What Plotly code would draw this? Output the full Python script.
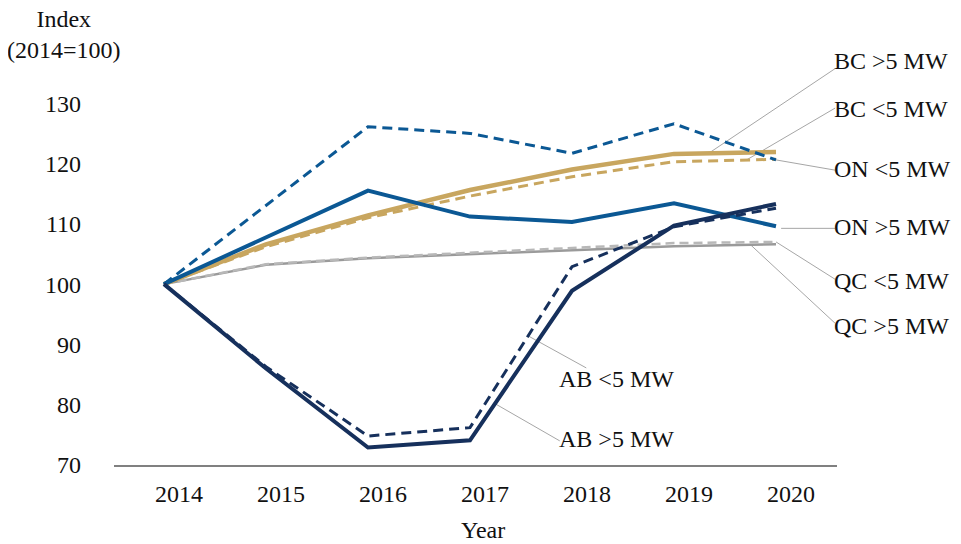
import numpy as np
import plotly.graph_objects as go

years = [2014, 2015, 2016, 2017, 2018, 2019, 2020]

on_lt5 = [100, 113.0, 126.1, 125.0, 121.7, 126.6, 120.6]
on_gt5 = [100, 107.8, 115.5, 111.2, 110.3, 113.4, 109.6]
bc_gt5 = [100, 106.6, 111.4, 115.6, 119.0, 121.6, 121.9]
bc_lt5 = [100, 106.2, 111.0, 114.6, 117.8, 120.3, 120.7]
qc_lt5 = [100, 103.3, 104.4, 105.2, 106.1, 106.8, 107.0]
qc_gt5 = [100, 103.2, 104.3, 105.0, 105.6, 106.3, 106.6]
ab_lt5 = [100, 86.3, 74.8, 76.2, 102.9, 109.5, 112.6]
ab_gt5 = [100, 86.0, 72.9, 74.1, 98.9, 109.7, 113.3]

y_ticks = [70, 80, 90, 100, 110, 120, 130]

BLUE = "#0b5894"
NAVY = "#16305c"
GOLD = "#c8a65f"
GRAY = "#9a9a9a"
LGRAY = "#b8b8b8"
LEADER = "#a6a6a6"
FONT = "Liberation Serif"
TXT = "#111111"
FS = 24

series = [
    ("QC >5 MW", qc_gt5, GRAY, "solid", 2.5),
    ("QC <5 MW", qc_lt5, LGRAY, "9px,5px", 2.5),
    ("BC <5 MW", bc_lt5, GOLD, "10px,6px", 3),
    ("BC >5 MW", bc_gt5, GOLD, "solid", 4.5),
    ("ON <5 MW", on_lt5, BLUE, "10px,6px", 3),
    ("ON >5 MW", on_gt5, BLUE, "solid", 4),
    ("AB <5 MW", ab_lt5, NAVY, "10px,6px", 3),
    ("AB >5 MW", ab_gt5, NAVY, "solid", 4),
]

fig = go.Figure()
for name, vals, color, dash, w in series:
    fig.add_trace(go.Scatter(x=years, y=vals, mode="lines", name=name,
                             line=dict(color=color, dash=dash, width=w),
                             showlegend=False, hoverinfo="x+y+name"))

def on_series(vals, x):
    return float(np.interp(x, years, vals))

LX = 2020.55
labels = [
    ("BC >5 MW", 137.0, 135.75, bc_gt5, 2019.34),
    ("BC <5 MW", 129.0, 129.2, bc_lt5, 2019.71),
    ("ON <5 MW", 119.1, 118.9, on_lt5, 2020.0),
    ("ON >5 MW", 109.5, 109.25, None, 2020.05),
    ("QC <5 MW", 100.55, 100.8, qc_lt5, 2020.0),
    ("QC >5 MW", 93.1, 93.5, qc_gt5, 2019.75),
]

shapes = []
annotations = []
for text, ly, sy, vals, ex in labels:
    ey = sy if vals is None else on_series(vals, ex)
    shapes.append(dict(type="line", xref="x", yref="y", x0=LX + 0.03, y0=sy, x1=ex, y1=ey,
                       line=dict(color=LEADER, width=1), layer="below"))
    annotations.append(dict(x=LX, y=ly, xref="x", yref="y", text=text, showarrow=False,
                            xanchor="left", yanchor="middle",
                            font=dict(family=FONT, size=FS, color=TXT)))

ab_labels = [
    ("AB <5 MW", 2017.85, 84.3, 2018.14, 86.1, ab_lt5, 2017.57),
    ("AB >5 MW", 2017.85, 74.35, 2017.88, 74.0, ab_gt5, 2017.245),
]
for text, lx, ly, sx, sy, vals, ex in ab_labels:
    shapes.append(dict(type="line", xref="x", yref="y", x0=sx, y0=sy, x1=ex,
                       y1=on_series(vals, ex), line=dict(color=LEADER, width=1), layer="below"))
    annotations.append(dict(x=lx, y=ly, xref="x", yref="y", text=text, showarrow=False,
                            xanchor="left", yanchor="middle",
                            font=dict(family=FONT, size=FS, color=TXT)))

# page body has an 8px margin: work in screenshot pixels and subtract it
OFF = 8
W, H = 961, 544
L, R, T, B = 114 - OFF, W - 837 + OFF, 55 - OFF, H - 465 + OFF
PW, PH = W - L - R, H - T - B

def px(x):
    return (x - OFF - L) / PW

def py(y):
    return (H - B - (y - OFF)) / PH

annotations.append(dict(x=px(64), y=py(35), xref="paper", yref="paper",
                        text="Index<br>(2014=100)", showarrow=False,
                        xanchor="center", yanchor="middle",
                        font=dict(family=FONT, size=FS, color=TXT)))
annotations.append(dict(x=px(483), y=py(530), xref="paper", yref="paper",
                        text="Year", showarrow=False, xanchor="center", yanchor="middle",
                        font=dict(family=FONT, size=FS, color=TXT)))

fig.update_layout(
    width=W, height=H,
    margin=dict(l=L, r=R, t=T, b=B, autoexpand=False),
    paper_bgcolor="white", plot_bgcolor="white",
    font=dict(family=FONT, size=FS, color=TXT),
    shapes=shapes, annotations=annotations,
    showlegend=False,
)

fig.update_xaxes(
    range=[2013.51, 2020.598], tickvals=years, ticktext=[str(y) for y in years],
    showgrid=False, zeroline=False, showline=True, linecolor="#808080", linewidth=2,
    ticks="", ticklabelstandoff=6, ticklabelshift=15, automargin=False,
    tickfont=dict(family=FONT, size=FS, color=TXT),
)
fig.update_yaxes(
    range=[70, 138], tickvals=y_ticks, showgrid=False, zeroline=False, showline=False,
    ticks="", ticklabelstandoff=32, automargin=False,
    tickfont=dict(family=FONT, size=FS, color=TXT),
)

fig.write_html("out.html")
